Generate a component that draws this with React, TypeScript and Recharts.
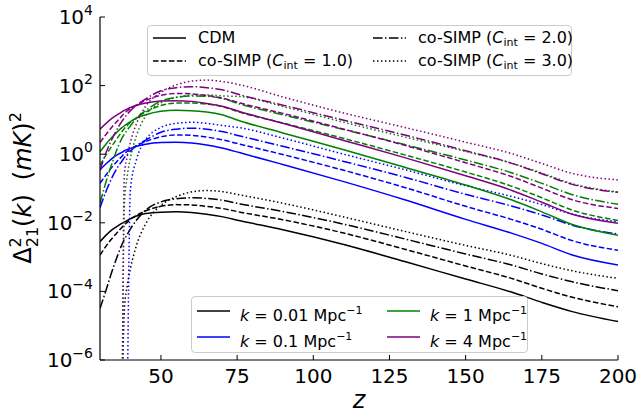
import { LineChart, Line, XAxis, YAxis } from 'recharts';

const FONT = '"DejaVu Sans", sans-serif';

// redshift grid
const Z = [30, 32, 34, 36, 37.3, 38, 39, 40, 42, 45, 50, 55, 60, 65, 70, 76, 90, 110, 130, 150, 165, 175, 185, 200];

// log10 of Delta^2_21 (mK^2); null = not drawn, -7 = dips below the axis
const K001_CDM = [-2.55, -2.36, -2.2, -2.08, -2.01, -1.98, -1.93, -1.88, -1.8, -1.73, -1.69, -1.68, -1.7, -1.75, -1.82, -1.94, -2.2, -2.63, -3.13, -3.64, -4.02, -4.32, -4.59, -4.88];
const K001_C1 = [-2.94, -2.68, -2.45, -2.25, -2.12, -2.06, -1.98, -1.9, -1.78, -1.65, -1.52, -1.47, -1.48, -1.52, -1.58, -1.69, -1.91, -2.3, -2.77, -3.26, -3.62, -3.91, -4.17, -4.45];
const K001_C2 = [-4.5, -3.96, -3.4, -2.9, -2.61, -2.48, -2.33, -2.18, -1.92, -1.63, -1.39, -1.3, -1.27, -1.29, -1.34, -1.45, -1.67, -2.04, -2.47, -2.91, -3.23, -3.49, -3.72, -3.98];
const K001_C3 = [null, null, null, null, -7, -4.54, -3.8, -3.33, -2.65, -2.03, -1.49, -1.24, -1.1, -1.06, -1.09, -1.19, -1.43, -1.83, -2.25, -2.66, -2.95, -3.19, -3.4, -3.62];

const K01_CDM = [-0.46, -0.28, -0.12, 0.0, 0.06, 0.1, 0.14, 0.17, 0.23, 0.29, 0.34, 0.35, 0.33, 0.27, 0.18, 0.04, -0.3, -0.8, -1.33, -1.9, -2.3, -2.6, -2.94, -3.23];
const K01_C1 = [-0.85, -0.6, -0.37, -0.17, -0.05, 0.02, 0.09, 0.15, 0.25, 0.37, 0.51, 0.56, 0.55, 0.5, 0.42, 0.29, -0.01, -0.47, -0.97, -1.52, -1.9, -2.19, -2.52, -2.8];
const K01_C2 = [-1.56, -1.08, -0.67, -0.35, -0.19, -0.1, 0.0, 0.09, 0.25, 0.41, 0.64, 0.73, 0.76, 0.73, 0.66, 0.53, 0.23, -0.21, -0.67, -1.17, -1.51, -1.77, -2.07, -2.33];
const K01_C3 = [null, null, null, null, null, null, -7, -1.0, -0.15, 0.42, 0.78, 0.9, 0.93, 0.9, 0.84, 0.77, 0.47, 0.0, -0.45, -0.92, -1.23, -1.47, -1.75, -1.97];

const K1_CDM = [0.07, 0.3, 0.5, 0.68, 0.78, 0.83, 0.89, 0.95, 1.05, 1.15, 1.25, 1.28, 1.27, 1.23, 1.15, 0.97, 0.62, 0.13, -0.38, -0.9, -1.33, -1.68, -2.05, -2.36];
const K1_C1 = [-0.32, -0.02, 0.25, 0.51, 0.67, 0.75, 0.84, 0.93, 1.07, 1.23, 1.42, 1.49, 1.49, 1.46, 1.39, 1.22, 0.91, 0.46, -0.02, -0.52, -0.93, -1.27, -1.63, -1.93];
const K1_C2 = [-1.43, -0.8, -0.25, 0.23, 0.48, 0.58, 0.71, 0.83, 1.05, 1.27, 1.55, 1.66, 1.7, 1.69, 1.63, 1.46, 1.15, 0.72, 0.28, -0.17, -0.54, -0.85, -1.18, -1.46];
const K1_C3 = [null, null, null, null, -7, -1.45, -0.6, -0.1, 0.55, 1.12, 1.5, 1.65, 1.72, 1.73, 1.7, 1.68, 1.39, 0.93, 0.5, 0.08, -0.26, -0.55, -0.86, -1.1];

const K4_CDM = [0.73, 0.9, 1.05, 1.17, 1.24, 1.28, 1.32, 1.36, 1.42, 1.49, 1.55, 1.56, 1.54, 1.48, 1.4, 1.24, 0.9, 0.4, -0.1, -0.63, -1.05, -1.4, -1.75, -2.01];
const K4_C1 = [0.34, 0.58, 0.8, 1.0, 1.13, 1.2, 1.27, 1.34, 1.44, 1.57, 1.72, 1.77, 1.76, 1.71, 1.64, 1.49, 1.19, 0.73, 0.26, -0.25, -0.65, -0.99, -1.33, -1.58];
const K4_C2 = [-0.47, 0.05, 0.45, 0.79, 0.97, 1.06, 1.17, 1.27, 1.43, 1.61, 1.85, 1.94, 1.97, 1.94, 1.88, 1.73, 1.43, 0.99, 0.56, 0.1, -0.26, -0.57, -0.88, -1.11];
const K4_C3 = [null, null, null, null, -7, -0.6, -0.05, 0.35, 0.9, 1.4, 1.8, 2.02, 2.13, 2.16, 2.12, 2.02, 1.67, 1.2, 0.78, 0.35, 0.02, -0.27, -0.56, -0.75];

const X_TICKS = [50, 75, 100, 125, 150, 175, 200];
const Y_TICKS = [1e-6, 1e-4, 1e-2, 1, 1e2, 1e4];

const COLORS = { k001: '#000000', k01: '#0000ff', k1: '#008000', k4: '#800080' };
const DASH: Record<string, string | undefined> = {
  cdm: undefined,
  c1: '5.55 2.4',
  c2: '9.6 2.4 1.5 2.4',
  c3: '1.5 2.475',
};

const SERIES = [
  { key: 'k001_cdm', vals: K001_CDM, color: COLORS.k001, style: 'cdm' },
  { key: 'k001_c1', vals: K001_C1, color: COLORS.k001, style: 'c1' },
  { key: 'k001_c2', vals: K001_C2, color: COLORS.k001, style: 'c2' },
  { key: 'k001_c3', vals: K001_C3, color: COLORS.k001, style: 'c3' },
  { key: 'k01_cdm', vals: K01_CDM, color: COLORS.k01, style: 'cdm' },
  { key: 'k01_c1', vals: K01_C1, color: COLORS.k01, style: 'c1' },
  { key: 'k01_c2', vals: K01_C2, color: COLORS.k01, style: 'c2' },
  { key: 'k01_c3', vals: K01_C3, color: COLORS.k01, style: 'c3' },
  { key: 'k1_cdm', vals: K1_CDM, color: COLORS.k1, style: 'cdm' },
  { key: 'k1_c1', vals: K1_C1, color: COLORS.k1, style: 'c1' },
  { key: 'k1_c2', vals: K1_C2, color: COLORS.k1, style: 'c2' },
  { key: 'k1_c3', vals: K1_C3, color: COLORS.k1, style: 'c3' },
  { key: 'k4_cdm', vals: K4_CDM, color: COLORS.k4, style: 'cdm' },
  { key: 'k4_c1', vals: K4_C1, color: COLORS.k4, style: 'c1' },
  { key: 'k4_c2', vals: K4_C2, color: COLORS.k4, style: 'c2' },
  { key: 'k4_c3', vals: K4_C3, color: COLORS.k4, style: 'c3' },
];

const data = Z.map((z, i) => {
  const row: any = { z };
  SERIES.forEach((s) => {
    const v = s.vals[i];
    row[s.key] = v == null ? null : Math.pow(10, v);
  });
  return row;
});

const YTick = ({ x, y, payload }: any) => {
  const exp = Math.round(Math.log10(payload.value));
  return (
    <g>
      <line x1={x} y1={y} x2={x + 5} y2={y} stroke="#000" strokeWidth={1} />
      <text x={x - 7} y={y + 7} textAnchor="end" fontSize={20} fontFamily={FONT} fill="#000">
        10
        <tspan dy={-9} fontSize={14}>
          {exp < 0 ? `\u2212${-exp}` : `${exp}`}
        </tspan>
      </text>
    </g>
  );
};

const XTick = ({ x, y, payload }: any) => (
  <g>
    <line x1={x} y1={y} x2={x} y2={y - 5} stroke="#000" strokeWidth={1} />
    <text x={x} y={y + 23} textAnchor="middle" fontSize={20} fontFamily={FONT} fill="#000">
      {payload.value}
    </text>
  </g>
);

const Sample = ({ color, dash }: { color: string; dash?: string }) => (
  <svg width={33} height={6} style={{ display: 'block' }}>
    <line x1={0} y1={3} x2={33} y2={3} stroke={color} strokeWidth={1.5} strokeDasharray={dash} />
  </svg>
);

const simp = (c: string) => (
  <>
    co-SIMP (<i>C</i>
    <sub style={{ fontSize: 11, verticalAlign: -3 }}>int</sub> = {c})
  </>
);

const kLabel = (k: string) => (
  <>
    <i>k</i> = {k} Mpc
    <sup style={{ fontSize: 11, verticalAlign: 7 }}>{'\u22121'}</sup>
  </>
);

const LEGEND_TOP = [
  { sx: 153, tx: 198, y: 38, color: '#000', dash: DASH.cdm, label: <>CDM</> },
  { sx: 153, tx: 198, y: 61, color: '#000', dash: DASH.c1, label: simp('1.0') },
  { sx: 373, tx: 418, y: 38, color: '#000', dash: DASH.c2, label: simp('2.0') },
  { sx: 373, tx: 418, y: 61, color: '#000', dash: DASH.c3, label: simp('3.0') },
];

const LEGEND_BOTTOM = [
  { sx: 197, tx: 240, y: 311, color: COLORS.k001, dash: undefined, label: kLabel('0.01') },
  { sx: 197, tx: 240, y: 337, color: COLORS.k01, dash: undefined, label: kLabel('0.1') },
  { sx: 387, tx: 430, y: 311, color: COLORS.k1, dash: undefined, label: kLabel('1') },
  { sx: 387, tx: 430, y: 337, color: COLORS.k4, dash: undefined, label: kLabel('4') },
];

const boxStyle: any = {
  position: 'absolute',
  background: 'rgba(255,255,255,0.8)',
  border: '1px solid #cccccc',
  borderRadius: 4,
  boxSizing: 'border-box',
};

const LegendItems = ({ items }: { items: any[] }) => (
  <>
    {items.map((it, i) => (
      <div key={i}>
        <div style={{ position: 'absolute', left: it.sx, top: it.y - 3 }}>
          <Sample color={it.color} dash={it.dash} />
        </div>
        <div
          style={{
            position: 'absolute',
            left: it.tx,
            top: it.y - 10,
            height: 20,
            lineHeight: '20px',
            fontSize: 16,
            fontFamily: FONT,
            whiteSpace: 'nowrap',
            color: '#000',
          }}
        >
          {it.label}
        </div>
      </div>
    ))}
  </>
);

export default function App() {
  return (
    <div style={{ position: 'absolute', left: 0, top: 0, width: 640, height: 414, background: '#fff' }}>
      <LineChart width={640} height={414} data={data} margin={{ top: 17, right: 22, bottom: 0, left: 0 }}>
        <XAxis
          dataKey="z"
          type="number"
          domain={[30, 200]}
          ticks={X_TICKS}
          allowDataOverflow
          height={54}
          tickSize={0}
          tickMargin={0}
          tickLine={false}
          tick={<XTick />}
          axisLine={{ stroke: '#000', strokeWidth: 1.2 }}
        />
        <XAxis
          xAxisId="top"
          dataKey="z"
          type="number"
          orientation="top"
          domain={[30, 200]}
          height={0}
          tick={false}
          tickLine={false}
          axisLine={{ stroke: '#000', strokeWidth: 1.2 }}
        />
        <YAxis
          type="number"
          scale="log"
          domain={[1e-6, 1e4]}
          ticks={Y_TICKS}
          allowDataOverflow
          width={100}
          tickSize={0}
          tickMargin={0}
          tickLine={false}
          tick={<YTick />}
          axisLine={{ stroke: '#000', strokeWidth: 1.2 }}
        />
        <YAxis
          yAxisId="right"
          orientation="right"
          type="number"
          scale="log"
          domain={[1e-6, 1e4]}
          width={0}
          tick={false}
          tickLine={false}
          axisLine={{ stroke: '#000', strokeWidth: 1.2 }}
        />
        {SERIES.map((s) => (
          <Line
            key={s.key}
            dataKey={s.key}
            type="monotone"
            stroke={s.color}
            strokeWidth={1.5}
            strokeDasharray={DASH[s.style]}
            dot={false}
            activeDot={false}
            isAnimationActive={false}
          />
        ))}
      </LineChart>

      {/* axis titles */}
      <svg width={640} height={414} style={{ position: 'absolute', left: 0, top: 0, pointerEvents: 'none' }}>
        <text x={359} y={408} textAnchor="middle" fontSize={24} fontStyle="italic" fontFamily={FONT}>
          z
        </text>
        <text
          transform="translate(31,188) rotate(-90)"
          textAnchor="middle"
          fontSize={24}
          fontFamily={FONT}
        >
          Δ<tspan dy={-10} fontSize={16}>2</tspan>
          <tspan dx={-10} dy={17} fontSize={16}>21</tspan>
          <tspan dy={-7}>(</tspan>
          <tspan fontStyle="italic">k</tspan>
          <tspan>)</tspan>
          <tspan dx={14}>(</tspan>
          <tspan fontStyle="italic">mK</tspan>
          <tspan>)</tspan>
          <tspan dy={-10} fontSize={16}>2</tspan>
        </text>
      </svg>

      {/* legends */}
      <div style={{ ...boxStyle, left: 147, top: 25, width: 425, height: 51 }} />
      <LegendItems items={LEGEND_TOP} />
      <div style={{ ...boxStyle, left: 191, top: 296, width: 337, height: 57 }} />
      <LegendItems items={LEGEND_BOTTOM} />
    </div>
  );
}
